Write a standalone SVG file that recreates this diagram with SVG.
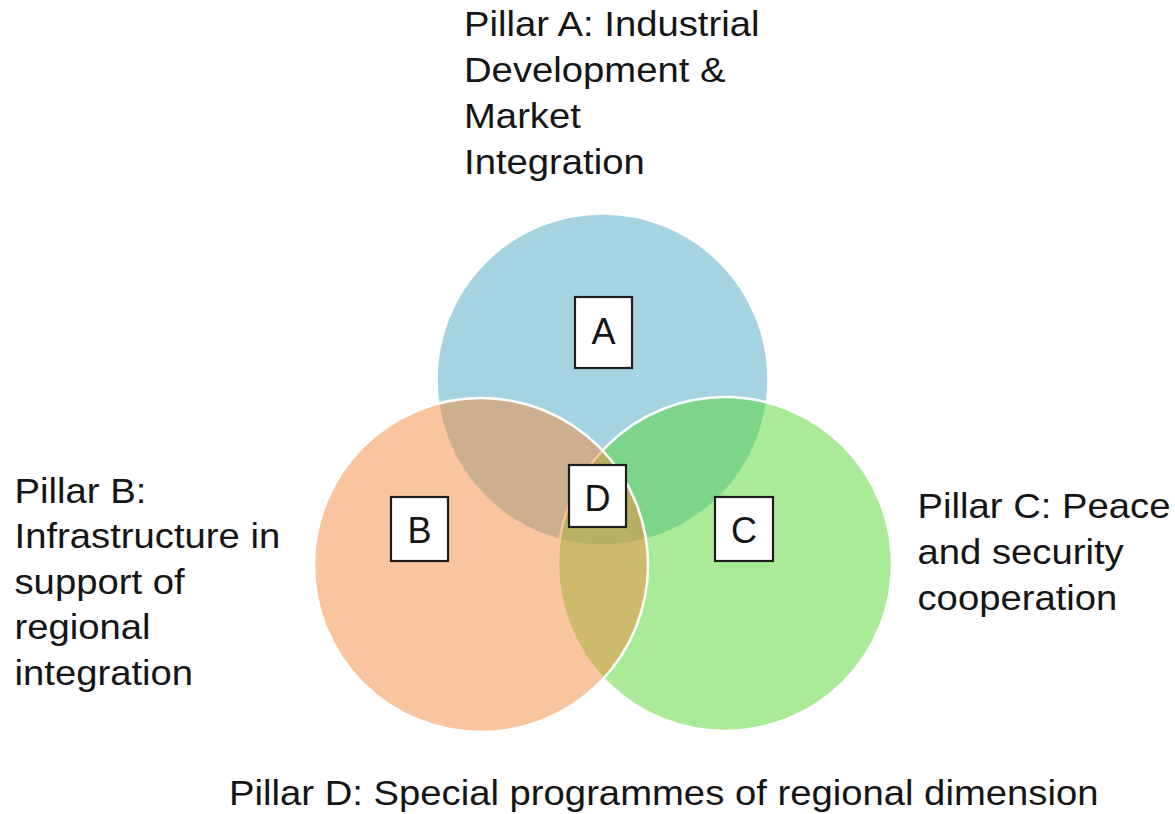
<svg xmlns="http://www.w3.org/2000/svg" width="1175" height="814" viewBox="0 0 1175 814">
  <style>
    .lbl { font-family: "Liberation Sans", Arial, sans-serif; font-size: 35px; fill: #151515; }
    .tag { font-family: "Liberation Sans", Arial, sans-serif; font-size: 36px; fill: #151515; text-anchor: middle; }
    .box { fill: #ffffff; stroke: #1e1e1e; stroke-width: 2.2; }
    .ring { stroke: #ffffff; stroke-width: 2.5; }
  </style>
  <rect width="1175" height="814" fill="#ffffff"/>

  <!-- Venn circles: A underneath, then C, then B on top (semi-transparent) -->
  <g id="circle-a">
    <circle cx="602.5" cy="379.5" r="166" fill="#a5d3e1" class="ring"/>
  </g>
  <g id="circle-c">
    <circle cx="725" cy="564" r="167" fill="#53d731" fill-opacity="0.5" class="ring"/>
  </g>
  <g id="circle-b">
    <circle cx="481" cy="565" r="167" fill="#f18b3d" fill-opacity="0.5" class="ring"/>
  </g>

  <g id="connectors"></g>

  <!-- Letter tags -->
  <g id="tag-a">
    <rect class="box" x="575" y="297" width="57" height="71"/>
    <text class="tag" x="603.5" y="344">A</text>
  </g>
  <g id="tag-b">
    <rect class="box" x="391" y="497" width="57" height="64"/>
    <text class="tag" x="419.5" y="543">B</text>
  </g>
  <g id="tag-c">
    <rect class="box" x="715" y="497" width="58" height="64"/>
    <text class="tag" x="744" y="543">C</text>
  </g>
  <g id="tag-d">
    <rect class="box" x="569" y="465" width="57" height="62"/>
    <text class="tag" x="597.5" y="511">D</text>
  </g>

  <!-- Pillar captions -->
  <g id="label-a" transform="translate(464 0) scale(1.093 1)">
    <text class="lbl">
      <tspan x="0" y="36">Pillar A: Industrial</tspan>
      <tspan x="0" y="82">Development &amp;</tspan>
      <tspan x="0" y="128">Market</tspan>
      <tspan x="0" y="174">Integration</tspan>
    </text>
  </g>
  <g id="label-b" transform="translate(14.5 0) scale(1.093 1)">
    <text class="lbl">
      <tspan x="0" y="503">Pillar B:</tspan>
      <tspan x="0" y="548.5">Infrastructure in</tspan>
      <tspan x="0" y="594">support of</tspan>
      <tspan x="0" y="639.5">regional</tspan>
      <tspan x="0" y="685">integration</tspan>
    </text>
  </g>
  <g id="label-c" transform="translate(917.5 0) scale(1.093 1)">
    <text class="lbl">
      <tspan x="0" y="518">Pillar C: Peace</tspan>
      <tspan x="0" y="564">and security</tspan>
      <tspan x="0" y="610">cooperation</tspan>
    </text>
  </g>
  <g id="label-d" transform="translate(229 0) scale(1.093 1)">
    <text class="lbl" x="0" y="805">Pillar D: Special programmes of regional dimension</text>
  </g>
</svg>
